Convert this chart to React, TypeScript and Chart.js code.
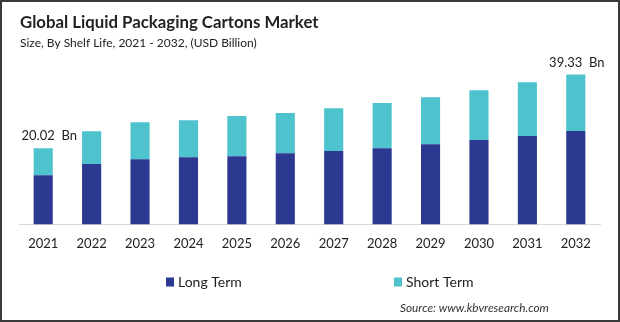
import React, { useEffect, useRef } from "react";
import { Chart, registerables } from "chart.js";

Chart.register(...registerables);

const years = ["2021", "2022", "2023", "2024", "2025", "2026", "2027", "2028", "2029", "2030", "2031", "2032"];
const longTerm = [12.88, 15.85, 17.08, 17.61, 17.87, 18.66, 19.26, 19.97, 21.03, 22.16, 23.21, 24.52];
const shortTerm = [7.14, 8.59, 9.73, 9.72, 10.59, 10.59, 11.23, 11.91, 12.35, 13.06, 14.11, 14.81];
const seriesNames = ["Long Term", "Short Term"];
const seriesColors = ["#2B3990", "#4EC3CD"];
const labeledIndices = [0, 11];
const labelDx = [6, 1];
const titleText = "Global Liquid Packaging Cartons Market";
const subtitleText = "Size, By Shelf Life, 2021 - 2032, (USD Billion)";
const sourceText = "Source: www.kbvresearch.com";

const FONT = "Lato, 'Open Sans', sans-serif";

const decorPlugin = {
  id: "decor",
  afterDraw(chart: any) {
    const ctx = chart.ctx as CanvasRenderingContext2D;
    ctx.save();
    // frame
    ctx.strokeStyle = "#3a3a3a";
    ctx.lineWidth = 2;
    ctx.strokeRect(1, 1, 618, 320);

    // title & subtitle
    ctx.fillStyle = "#222222";
    ctx.textAlign = "left";
    ctx.textBaseline = "alphabetic";
    ctx.font = `bold 16.8px ${FONT}`;
    ctx.fillText(titleText, 20, 28);
    ctx.font = `12px ${FONT}`;
    ctx.fillText(subtitleText, 20, 47);

    // totals labels
    const meta = chart.getDatasetMeta(chart.data.datasets.length - 1);
    ctx.font = `13px ${FONT}`;
    ctx.textAlign = "center";
    ctx.textBaseline = "middle";
    labeledIndices.forEach((i, k) => {
      const el = meta.data[i];
      const total = longTerm[i] + shortTerm[i];
      ctx.fillText(`${total.toFixed(2)}  Bn`, el.x + labelDx[k], el.y - 12);
    });

    // legend
    const legendBoxX = [166, 394];
    const legendY = 282;
    ctx.textAlign = "left";
    ctx.font = `14px ${FONT}`;
    chart.data.datasets.forEach((ds: any, k: number) => {
      ctx.fillStyle = ds.backgroundColor;
      ctx.fillRect(legendBoxX[k], legendY - 4.5, 8, 9);
      ctx.fillStyle = "#222222";
      ctx.fillText(ds.label, legendBoxX[k] + 12, legendY);
    });

    // source
    ctx.font = `italic 11.8px ${FONT}`;
    ctx.fillStyle = "#333333";
    ctx.fillText(sourceText, 400, 308);
    ctx.restore();
  },
};

export default function App() {
  const canvasRef = useRef<HTMLCanvasElement | null>(null);

  useEffect(() => {
    if (!canvasRef.current) return;
    const chart = new Chart(canvasRef.current, {
      type: "bar",
      data: {
        labels: years,
        datasets: [
          { label: seriesNames[0], data: longTerm, backgroundColor: seriesColors[0], barPercentage: 0.395, categoryPercentage: 1 },
          { label: seriesNames[1], data: shortTerm, backgroundColor: seriesColors[1], barPercentage: 0.395, categoryPercentage: 1 },
        ],
      },
      options: {
        responsive: false,
        animation: false,
        layout: { padding: { left: 19, right: 20, top: 53, bottom: 58 } },
        plugins: {
          legend: { display: false },
          tooltip: { enabled: false },
          title: { display: false },
        },
        scales: {
          x: {
            stacked: true,
            grid: { display: false, drawTicks: false },
            border: { display: true, color: "#d9d9d9", width: 1 },
            ticks: { color: "#222222", font: { family: FONT, size: 13 }, padding: 12 },
          },
          y: { stacked: true, display: false, min: 0, max: 45 },
        },
      },
      plugins: [decorPlugin],
    });
    return () => chart.destroy();
  }, []);

  return (
    <div style={{ position: "absolute", left: 0, top: 0, width: 620, height: 322, background: "#ffffff" }}>
      <canvas ref={canvasRef} width={620} height={322} />
    </div>
  );
}
